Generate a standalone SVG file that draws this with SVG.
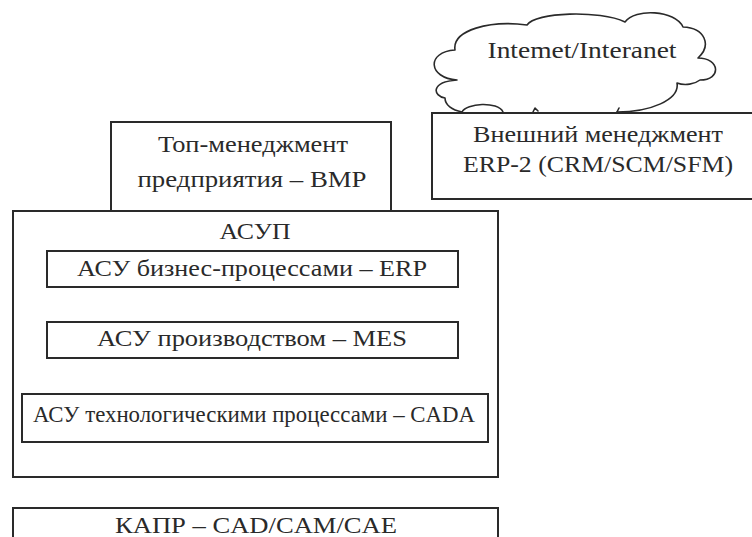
<svg xmlns="http://www.w3.org/2000/svg" width="752" height="537" viewBox="0 0 752 537">
<style>
.box{fill:#fff;stroke:#2a2a2a;stroke-width:2}
.cloud{fill:none;stroke:#2a2a2a;stroke-width:1.6;stroke-linejoin:round;stroke-linecap:round}
text{font-family:"Liberation Serif","Times New Roman",serif;font-size:24px;fill:#2a2a2a;text-anchor:middle}
</style>
<rect width="752" height="537" fill="#fff"/>
<g id="cloud">
<path class="cloud" d="M 462,112 C 452,110 445,105 445,98 C 433,96 430,82 457,80 C 428,78 426,52 455,50 C 452,30 490,20 527,25 C 535,12 600,10 625,22 C 635,8 675,10 683,27 C 705,28 712,45 698,58 C 720,58 722,80 700,80 C 695,84 685,86 677,83 C 680,100 650,112 617,112"/>
<path class="cloud" d="M 462,112 C 466,103 498,101 503,112 M 533,112 L 535,108 L 538,111 M 617,112 L 619,108"/>
<text x="582" y="58" textLength="189" lengthAdjust="spacingAndGlyphs">Intemet/Interanet</text>
</g>
<g id="external">
<rect class="box" x="432" y="113" width="330" height="86"/>
<text x="598" y="142" textLength="250" lengthAdjust="spacingAndGlyphs">Внешний менеджмент</text>
<text x="598" y="172" textLength="270" lengthAdjust="spacingAndGlyphs">ERP-2 (CRM/SCM/SFM)</text>
</g>
<g id="top">
<rect class="box" x="111" y="122" width="280" height="89"/>
<text x="253" y="152" textLength="190" lengthAdjust="spacingAndGlyphs">Топ-менеджмент</text>
<text x="252" y="187" textLength="229" lengthAdjust="spacingAndGlyphs">предприятия – BMP</text>
</g>
<g id="asup">
<rect class="box" x="13" y="211" width="485" height="266"/>
<text x="255" y="239" textLength="71" lengthAdjust="spacingAndGlyphs">АСУП</text>
</g>
<g id="erp">
<rect class="box" x="47" y="251" width="411" height="36"/>
<text x="252" y="276" textLength="350" lengthAdjust="spacingAndGlyphs">АСУ бизнес-процессами – ERP</text>
</g>
<g id="mes">
<rect class="box" x="47" y="322" width="411" height="36"/>
<text x="252" y="346" textLength="310" lengthAdjust="spacingAndGlyphs">АСУ производством – MES</text>
</g>
<g id="cada">
<rect class="box" x="22" y="394" width="466" height="48"/>
<text x="254" y="422" textLength="442" lengthAdjust="spacingAndGlyphs">АСУ технологическими процессами – CADA</text>
</g>
<g id="kapr">
<rect class="box" x="13" y="508" width="485" height="40"/>
<text x="256" y="533" textLength="282" lengthAdjust="spacingAndGlyphs">КАПР – CAD/CAM/CAE</text>
</g>
<g id="connectors"></g>
</svg>
